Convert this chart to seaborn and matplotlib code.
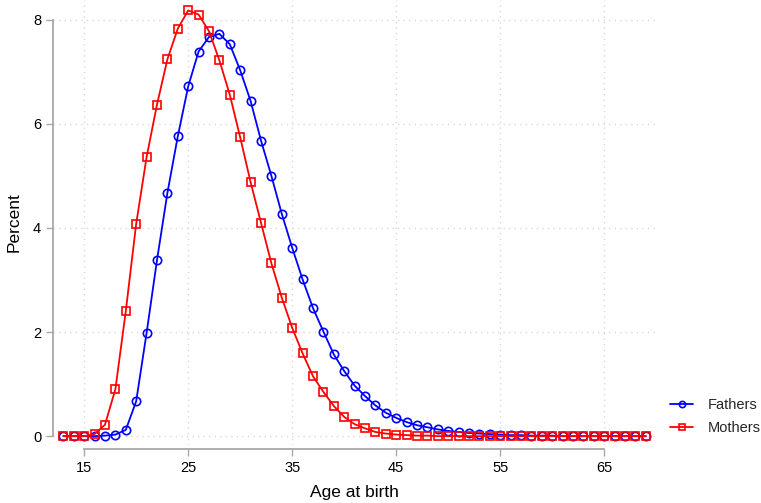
import matplotlib
matplotlib.use("Agg")
import matplotlib.pyplot as plt
import seaborn as sns
import pandas as pd
import numpy as np

ages = list(range(13, 70))

fathers = [0.00, 0.00, 0.00, 0.00, 0.01, 0.03, 0.12, 0.67, 1.98, 3.38,
           4.67, 5.76, 6.72, 7.39, 7.67, 7.73, 7.53, 7.03, 6.44, 5.68,
           5.00, 4.27, 3.62, 3.01, 2.46, 2.01, 1.57, 1.25, 0.97, 0.77,
           0.59, 0.45, 0.35, 0.27, 0.21, 0.17, 0.13, 0.10, 0.08, 0.06,
           0.05, 0.04, 0.03, 0.02, 0.02, 0.01, 0.01, 0.01, 0.00, 0.00,
           0.00, 0.00, 0.00, 0.00, 0.00, 0.00, 0.00]

mothers = [0.00, 0.00, 0.00, 0.04, 0.22, 0.90, 2.40, 4.08, 5.36, 6.37,
           7.24, 7.83, 8.18, 8.10, 7.78, 7.22, 6.56, 5.74, 4.88, 4.10,
           3.32, 2.66, 2.08, 1.59, 1.15, 0.85, 0.58, 0.37, 0.23, 0.15,
           0.08, 0.05, 0.03, 0.02, 0.01, 0.01, 0.00, 0.00, 0.00, 0.00,
           0.00, 0.00, 0.00, 0.00, 0.00, 0.00, 0.00, 0.00, 0.00, 0.00,
           0.00, 0.00, 0.00, 0.00, 0.00, 0.00, 0.00]

series_names = ["Fathers", "Mothers"]
series_colors = ["#0000ff", "#ff0000"]
series_markers = ["o", "s"]

x_ticks = [15, 25, 35, 45, 55, 65]
y_ticks = [0, 2, 4, 6, 8]

sns.set_theme(style="white")
plt.rcParams['font.family'] = ['Liberation Sans', 'DejaVu Sans']

fig = plt.figure(figsize=(7.61, 5.03), dpi=100)
ax = fig.add_axes([0.0696, 0.1153, 0.7914, 0.8847])

df = pd.DataFrame({"age": ages, "Fathers": fathers, "Mothers": mothers})

for name, col, mk in zip(series_names, series_colors, series_markers):
    sns.lineplot(data=df, x="age", y=name, ax=ax, color=col, marker=mk,
                 markersize=6.0, markerfacecolor="none", markeredgecolor=col,
                 markeredgewidth=1.2, linewidth=1.3, label=name)

ax.set_xlim(12.0, 69.9)
ax.set_ylim(-0.17, 8.38)
ax.set_xticks(x_ticks)
ax.set_yticks(y_ticks)
ax.set_xticklabels([str(t) for t in x_ticks])
ax.set_yticklabels([str(t) for t in y_ticks])

grid_col = "#d9d9d9"
ax.grid(True, color=grid_col, linestyle=(0, (1, 3)), linewidth=1.0)
ax.set_axisbelow(True)

for s in ["top", "right"]:
    ax.spines[s].set_visible(False)
for s in ["left", "bottom"]:
    ax.spines[s].set_color("#a8a8a8")
    ax.spines[s].set_linewidth(1.3)
ax.spines["left"].set_bounds(0, 8)
ax.spines["bottom"].set_bounds(15, 65)
ax.spines["bottom"].set_position(("outward", 3))

ax.tick_params(axis="both", which="both", direction="out", length=5,
               width=1.0, color="#a8a8a8", labelsize=10.5, labelcolor="black",
               bottom=True, left=True, pad=3.5)

ax.set_xlabel("Age at birth", fontsize=12.5, color="black", labelpad=7)
ax.set_ylabel("Percent", fontsize=12.5, color="black", labelpad=8)

leg = ax.legend(loc="center left", bbox_to_anchor=(1.015, 0.064), frameon=False,
                fontsize=10.5, handlelength=1.6, handletextpad=1.0,
                markerscale=0.75, labelspacing=0.65, borderaxespad=0)

fig.savefig("out.png", dpi=100)
